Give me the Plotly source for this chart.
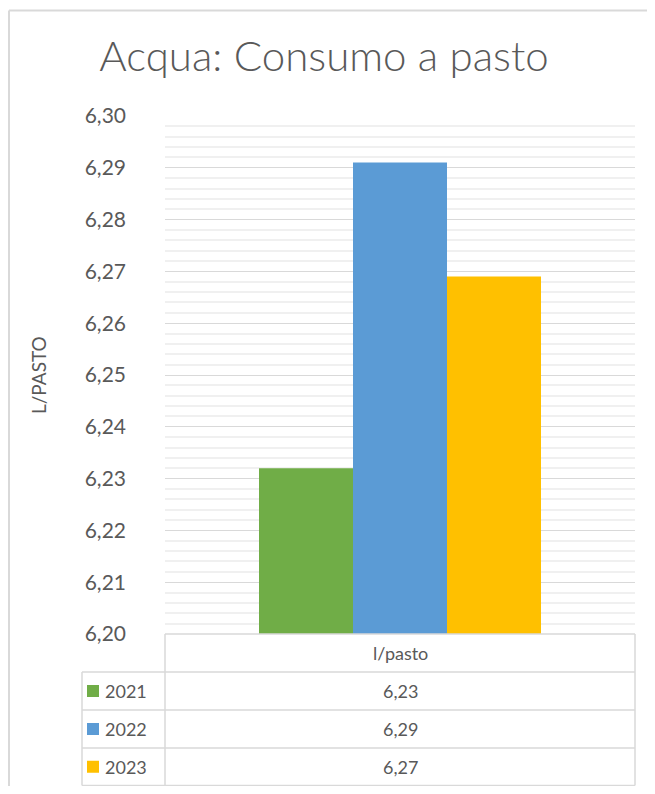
import plotly.graph_objects as go

category = ["l/pasto"]
years = ["2021", "2022", "2023"]
values = [6.232, 6.291, 6.269]
colors = ["#70AD47", "#5B9BD5", "#FFC000"]
y_title = "L/PASTO"
title = "Acqua: Consumo a pasto"

OFF = 8  # page body margin
W, H = 655, 794
L, R, T, B = 165, 635, 116, 634  # plot area in reference pixels

def px(x):
    return (x - L) / (R - L)

def py(y):
    return (B - y) / (B - T)

FONT = "Lato"
GRAY = "#595959"
LINE = "#d9d9d9"

fig = go.Figure()
for yr, v, c in zip(years, values, colors):
    fig.add_trace(go.Bar(x=category, y=[v], name=yr, marker=dict(color=c, line=dict(width=0))))

shapes = []
annotations = []

def ann(x, y, text, size=18, xanchor="center", **kw):
    annotations.append(dict(xref="paper", yref="paper", x=px(x), y=py(y), text=text, showarrow=False,
                            xanchor=xanchor, yanchor="middle",
                            font=dict(family=FONT, size=size, color=GRAY), **kw))

# outer chart border (top and left edges visible)
bw = dict(color=LINE, width=2)
shapes.append(dict(type="line", xref="paper", yref="paper", x0=px(9), x1=px(W), y0=py(10.5), y1=py(10.5), line=bw, layer="below"))
shapes.append(dict(type="line", xref="paper", yref="paper", x0=px(9), x1=px(9), y0=py(10.5), y1=py(H), line=bw, layer="below"))

# data table
rows_y = [634, 672, 710, 748, 785.5]
tl, tm, tr = 82, 165, 635
lw = dict(color=LINE, width=1.5)
shapes.append(dict(type="line", xref="paper", yref="paper", x0=px(tm), x1=px(tr), y0=py(rows_y[0]), y1=py(rows_y[0]), line=lw))
for yy in rows_y[1:]:
    shapes.append(dict(type="line", xref="paper", yref="paper", x0=px(tl), x1=px(tr), y0=py(yy), y1=py(yy), line=lw))
shapes.append(dict(type="line", xref="paper", yref="paper", x0=px(tl), x1=px(tl), y0=py(rows_y[1]), y1=py(rows_y[-1]), line=lw))
for xx in (tm, tr):
    shapes.append(dict(type="line", xref="paper", yref="paper", x0=px(xx), x1=px(xx), y0=py(rows_y[0]), y1=py(rows_y[-1]), line=lw))

ann((tm + tr) / 2, (rows_y[0] + rows_y[1]) / 2, category[0])
for i, (yr, v, c) in enumerate(zip(years, values, colors)):
    yc = (rows_y[i + 1] + rows_y[i + 2]) / 2
    shapes.append(dict(type="rect", xref="paper", yref="paper", x0=px(87), x1=px(99), y0=py(yc + 6), y1=py(yc - 6),
                       fillcolor=c, line=dict(width=0)))
    ann(103, yc, yr, xanchor="left")
    ann((tm + tr) / 2, yc, f"{v:.2f}".replace(".", ","))

# y axis title
ann(38, 375, y_title, size=19, textangle=-90)

FW, FH = W - 2 * OFF, H - 2 * OFF
fig.update_layout(
    width=FW, height=FH,
    margin=dict(l=L - OFF, r=FW - (R - OFF), t=T - OFF, b=FH - (B - OFF), pad=0),
    paper_bgcolor="white", plot_bgcolor="white",
    separators=",.",
    barmode="group", bargap=0.4, bargroupgap=0,
    showlegend=False,
    title=dict(text=title, xref="container", x=(324 - OFF) / FW, xanchor="center",
               y=1 - (56 - OFF) / FH, yanchor="middle",
               font=dict(family=FONT, size=42, color=GRAY, weight=300)),
    xaxis=dict(showticklabels=False, showgrid=False, zeroline=False, showline=False),
    yaxis=dict(range=[6.20, 6.30], dtick=0.01, tickformat=".2f", showgrid=True, gridcolor=LINE, gridwidth=1.3,
               zeroline=False, showline=False, ticks="", ticklabelstandoff=38,
               tickfont=dict(family=FONT, size=21, color=GRAY),
               minor=dict(dtick=0.002, showgrid=True, gridcolor="#f0f0f0", gridwidth=1.5)),
    shapes=shapes, annotations=annotations,
)

fig.write_html("out.html")
